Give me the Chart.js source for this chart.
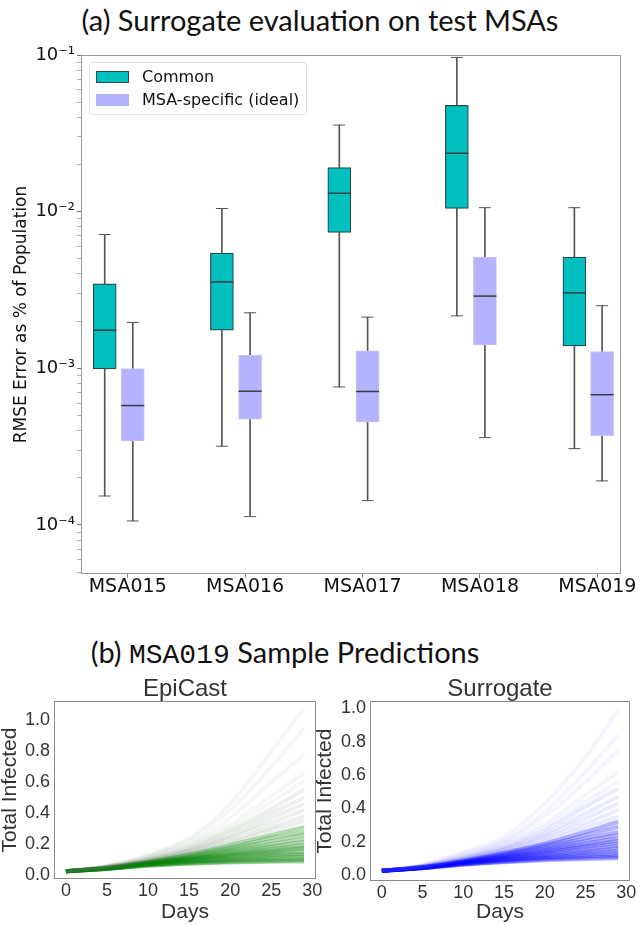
<!DOCTYPE html>
<html>
<head>
<meta charset="utf-8">
<script src="https://cdn.jsdelivr.net/npm/chart.js@4.4.1/dist/chart.umd.min.js"></script>
<style>
  html, body { margin: 0; padding: 0; background: #fff; }
  body { width: 640px; height: 925px; position: relative; overflow: hidden; }
  canvas { position: absolute; }
  .sup { position: absolute; left: 0; width: 640px; text-align: center; font-family: Lato, "Noto Sans", sans-serif; font-size: 29px; color: #111; white-space: nowrap; line-height: 36px; }
  .mono { font-family: "Liberation Mono", "DejaVu Sans Mono", monospace; font-size: 28px; }
  #legend { position: absolute; left: 89px; top: 62px; width: 216px; height: 51px; border: 1px solid #e2e2e2; border-radius: 3px; background: rgba(255,255,255,0.85); font-family: "DejaVu Sans", sans-serif; font-size: 16px; color: #111; }
  .item { position: absolute; left: 6px; height: 20px; line-height: 20px; white-space: nowrap; }
  .sw { display: inline-block; width: 31px; height: 10px; vertical-align: middle; margin-right: 13px; position: relative; top: -1px; }
</style>
</head>
<body>
<div class="sup" style="top: 2px;">(a) Surrogate evaluation on test MSAs</div>
<div class="sup" style="top: 634px; left: -35px;">(b) <span class="mono">MSA019</span> Sample Predictions</div>

<canvas id="boxChart" width="640" height="560" style="left:0; top:40px;"></canvas>
<canvas id="epiChart" width="330" height="255" style="left:0; top:670px;"></canvas>
<canvas id="surChart" width="335" height="255" style="left:305px; top:670px;"></canvas>

<div id="legend">
  <div class="item" style="top: 4px;"><span class="sw" style="background:#00bfbf; border:1px solid #2b4a4a;"></span>Common</div>
  <div class="item" style="top: 27px;"><span class="sw" style="background:#b3b3ff; border:1px solid #b3b3ff;"></span>MSA-specific (ideal)</div>
</div>

<script>
const msaLabels = ['MSA015', 'MSA016', 'MSA017', 'MSA018', 'MSA019'];
const commonPos = [0.804, 1.802, 2.802, 3.803, 4.804];
const specificPos = [1.043, 2.042, 3.043, 4.042, 5.040];

const commonLow  = [1.53e-4, 3.18e-4, 7.6e-4, 2.16e-3, 3.07e-4];
const commonQ1   = [9.9e-4, 1.75e-3, 7.36e-3, 1.05e-2, 1.39e-3];
const commonMed  = [1.75e-3, 3.56e-3, 1.31e-2, 2.36e-2, 3.03e-3];
const commonQ3   = [3.46e-3, 5.43e-3, 1.91e-2, 4.77e-2, 5.13e-3];
const commonHigh = [7.15e-3, 1.047e-2, 3.57e-2, 9.65e-2, 1.06e-2];

const specLow  = [1.06e-4, 1.13e-4, 1.43e-4, 3.61e-4, 1.91e-4];
const specQ1   = [3.44e-4, 4.74e-4, 4.55e-4, 1.41e-3, 3.71e-4];
const specMed  = [5.78e-4, 7.14e-4, 7.11e-4, 2.89e-3, 6.78e-4];
const specQ3   = [9.95e-4, 1.21e-3, 1.29e-3, 5.13e-3, 1.28e-3];
const specHigh = [1.96e-3, 2.26e-3, 2.12e-3, 1.06e-2, 2.51e-3];

const yDecades = [1e-5, 1e-4, 1e-3, 1e-2, 1e-1];

// ---- panel (b): sample trajectories, MSA019 ----
const days = [0, 5, 10, 15, 20, 25, 29];
const dayTicks = [0, 5, 10, 15, 20, 25, 30];
const infectedTicks = [0, 0.2, 0.4, 0.6, 0.8, 1.0];

const epicastRuns = [
  [0.025, 0.062, 0.130, 0.240, 0.460, 0.800, 1.080],
  [0.025, 0.060, 0.125, 0.230, 0.420, 0.700, 0.950],
  [0.025, 0.058, 0.120, 0.210, 0.370, 0.600, 0.780],
  [0.025, 0.056, 0.115, 0.200, 0.330, 0.510, 0.660],
  [0.025, 0.055, 0.110, 0.190, 0.310, 0.470, 0.610],
  [0.025, 0.054, 0.105, 0.180, 0.290, 0.430, 0.550],
  [0.025, 0.053, 0.100, 0.170, 0.270, 0.400, 0.500],
  [0.025, 0.052, 0.098, 0.160, 0.250, 0.370, 0.460],
  [0.025, 0.051, 0.095, 0.155, 0.240, 0.340, 0.420],
  [0.025, 0.050, 0.092, 0.150, 0.220, 0.310, 0.380],
  [0.025, 0.049, 0.090, 0.140, 0.210, 0.290, 0.350],
  [0.025, 0.048, 0.087, 0.135, 0.195, 0.260, 0.310],
  [0.025, 0.047, 0.085, 0.130, 0.180, 0.240, 0.280],
  [0.025, 0.046, 0.082, 0.120, 0.170, 0.220, 0.260],
  [0.025, 0.046, 0.080, 0.115, 0.160, 0.200, 0.235],
  [0.025, 0.045, 0.078, 0.110, 0.150, 0.185, 0.215],
  [0.025, 0.045, 0.077, 0.107, 0.140, 0.170, 0.195],
  [0.025, 0.044, 0.075, 0.103, 0.133, 0.160, 0.180],
  [0.025, 0.044, 0.074, 0.100, 0.127, 0.150, 0.170],
  [0.025, 0.043, 0.072, 0.096, 0.120, 0.140, 0.155],
  [0.025, 0.043, 0.070, 0.092, 0.112, 0.130, 0.140],
  [0.025, 0.042, 0.068, 0.088, 0.105, 0.120, 0.130],
  [0.025, 0.042, 0.066, 0.084, 0.099, 0.110, 0.118],
  [0.025, 0.041, 0.064, 0.080, 0.092, 0.100, 0.105],
  [0.025, 0.040, 0.062, 0.076, 0.086, 0.092, 0.095],
  [0.025, 0.040, 0.060, 0.073, 0.081, 0.086, 0.088]
];

const surrogateRuns = [
  [0.025, 0.060, 0.140, 0.230, 0.430, 0.710, 0.990],
  [0.025, 0.058, 0.130, 0.210, 0.380, 0.620, 0.840],
  [0.025, 0.056, 0.120, 0.200, 0.350, 0.560, 0.750],
  [0.025, 0.055, 0.115, 0.190, 0.310, 0.480, 0.620],
  [0.025, 0.054, 0.110, 0.180, 0.290, 0.440, 0.560],
  [0.025, 0.053, 0.105, 0.170, 0.270, 0.410, 0.520],
  [0.025, 0.052, 0.100, 0.160, 0.250, 0.370, 0.470],
  [0.025, 0.051, 0.097, 0.155, 0.235, 0.340, 0.430],
  [0.025, 0.050, 0.094, 0.150, 0.220, 0.310, 0.390],
  [0.025, 0.049, 0.090, 0.140, 0.205, 0.285, 0.350],
  [0.025, 0.048, 0.087, 0.135, 0.190, 0.260, 0.320],
  [0.025, 0.047, 0.085, 0.130, 0.180, 0.240, 0.290],
  [0.025, 0.046, 0.082, 0.123, 0.170, 0.220, 0.260],
  [0.025, 0.046, 0.080, 0.117, 0.160, 0.205, 0.240],
  [0.025, 0.045, 0.078, 0.112, 0.150, 0.190, 0.220],
  [0.025, 0.045, 0.076, 0.108, 0.143, 0.178, 0.205],
  [0.025, 0.044, 0.075, 0.104, 0.136, 0.168, 0.190],
  [0.025, 0.044, 0.073, 0.100, 0.128, 0.155, 0.175],
  [0.025, 0.043, 0.071, 0.096, 0.120, 0.143, 0.160],
  [0.025, 0.043, 0.069, 0.092, 0.113, 0.132, 0.145],
  [0.025, 0.042, 0.067, 0.088, 0.106, 0.122, 0.132],
  [0.025, 0.042, 0.065, 0.084, 0.100, 0.113, 0.120],
  [0.025, 0.041, 0.063, 0.080, 0.094, 0.104, 0.110],
  [0.025, 0.040, 0.061, 0.076, 0.088, 0.096, 0.100]
]

// plain box around the plotting area, like matplotlib spines
const frame = {
  id: 'frame',
  afterDatasetsDraw(chart, args, opts) {
    const { ctx, chartArea: a } = chart
    ctx.save()
    ctx.strokeStyle = opts.color || '#999'
    ctx.lineWidth = 1
    ctx.strokeRect(Math.round(a.left) + 0.5, Math.round(a.top) + 0.5, Math.round(a.width) - 1, Math.round(a.height) - 1)
    ctx.restore()
  }
}

const SUP = { '-': '\u207b', '0': '\u2070', '1': '\u00b9', '2': '\u00b2', '3': '\u00b3', '4': '\u2074', '5': '\u2075' }
const decadeLabel = v => '10' + String(Math.round(Math.log10(v))).split('').map(c => SUP[c]).join('')
const isDecade = v => Math.abs(Math.log10(v) - Math.round(Math.log10(v))) < 1e-6

const pts = (xs, ys) => xs.map((x, i) => ({ x, y: ys[i] }))
const range = (xs, lo, hi) => xs.map((x, i) => ({ x, y: [lo[i], hi[i]] }))

const allPos = commonPos.concat(specificPos)
const boxW = 23

new Chart(document.getElementById('boxChart'), {
  type: 'bar',
  data: {
    datasets: [
      { label: 'whiskers', data: range(allPos, commonLow.concat(specLow), commonHigh.concat(specHigh)),
        backgroundColor: '#555', barThickness: 1, grouped: false, order: 5 },
      { type: 'scatter', label: 'caps', data: pts(allPos.concat(allPos), commonLow.concat(specLow, commonHigh, specHigh)),
        pointStyle: 'line', pointRadius: 6, borderColor: '#555', borderWidth: 1, order: 4 },
      { label: 'Common', data: range(commonPos, commonQ1, commonQ3),
        backgroundColor: '#00bfbf', borderColor: '#2b4a4a', borderWidth: 1.2, borderSkipped: false,
        barThickness: boxW, grouped: false, order: 3 },
      { label: 'MSA-specific (ideal)', data: range(specificPos, specQ1, specQ3),
        backgroundColor: '#b3b3ff', borderColor: '#c4c4ee', borderWidth: 1, borderSkipped: false,
        barThickness: boxW, grouped: false, order: 3 },
      { type: 'scatter', label: 'medians', data: pts(allPos, commonMed.concat(specMed)),
        pointStyle: 'line', pointRadius: boxW / 2, borderColor: '#2f3f3f', borderWidth: 1.5, order: 1 }
    ]
  },
  options: {
    responsive: false, animation: false,
    layout: { padding: { top: 15, right: 19, left: 0, bottom: 0 } },
    plugins: { legend: { display: false }, tooltip: { enabled: false }, frame: { color: '#9a9a9a' } },
    scales: {
      x: {
        type: 'linear', min: 0.602, max: 5.201, offset: false,
        afterBuildTicks: s => { s.ticks = msaLabels.map((_, i) => ({ value: i + 1 })) },
        afterFit: s => { s.height = 26 },
        ticks: { callback: v => msaLabels[Math.round(v) - 1], autoSkip: false, maxRotation: 0, padding: 0,
          font: { family: 'DejaVu Sans', size: 19, lineHeight: 1 }, color: '#111' },
        grid: { display: true, drawOnChartArea: false, offset: false, tickLength: 4, tickColor: '#888' },
        border: { display: false }
      },
      y: {
        type: 'logarithmic', min: 4.86e-5, max: 0.1,
        afterBuildTicks: s => {
          const t = []
          yDecades.forEach(d => [1, 2, 3, 4, 5, 6, 7, 8, 9].forEach(m => {
            const v = d * m
            if (v >= s.min && v <= s.max * 1.0001) t.push({ value: v })
          }))
          s.ticks = t
        },
        afterFit: s => { s.width = 81 },
        ticks: { callback: v => isDecade(v) ? decadeLabel(v) : '', autoSkip: false, padding: 2,
          font: { family: 'DejaVu Sans', size: 18 }, color: '#111' },
        grid: { display: true, drawOnChartArea: false, tickLength: 4,
          tickColor: c => (c.tick && isDecade(c.tick.value)) ? '#777' : '#b0b0b0' },
        border: { display: false },
        title: { display: true, text: 'RMSE Error as % of Population', color: '#111',
          font: { family: 'DejaVu Sans', size: 17 }, padding: { top: 11, bottom: 0 } }
      }
    }
  },
  plugins: [frame]
})

// ---- trajectory panels ----
function runStyle(rgb, faint, end) {
  if (end > 0.55) return 'rgba(' + faint + ',0.05)'
  if (end > 0.32) return 'rgba(' + faint + ',0.1)'
  return 'rgba(' + rgb + ',0.3)'
}

function trajectories(id, title, runs, rgb, faint, yMin, yMax, axisW, axisH, padRight, ylabelPad) {
  const txt = (size) => ({ family: 'Liberation Sans', size, lineHeight: 1 })
  return new Chart(document.getElementById(id), {
    type: 'line',
    data: {
      datasets: runs.map(r => ({
        data: pts(days, r), borderColor: runStyle(rgb, faint, r[r.length - 1]), borderWidth: 4,
        pointRadius: 0, cubicInterpolationMode: 'monotone', fill: false
      }))
    },
    options: {
      responsive: false, animation: false,
      layout: { padding: { top: 0, right: padRight, left: 0, bottom: 0 } },
      plugins: {
        legend: { display: false }, tooltip: { enabled: false }, frame: { color: '#8a8a8a' },
        title: { display: true, fullSize: false, text: title, color: '#333',
          font: { family: 'Liberation Sans', size: 24, lineHeight: 1, weight: 'normal' },
          padding: { top: 7, bottom: 0 } }
      },
      scales: {
        x: {
          type: 'linear', min: -1.45, max: 30.45,
          afterBuildTicks: s => { s.ticks = dayTicks.map(v => ({ value: v })) },
          afterFit: s => { s.height = axisH },
          ticks: { padding: 3.5, maxRotation: 0, font: txt(18), color: '#333' },
          grid: { display: false, drawTicks: false }, border: { display: false },
          title: { display: true, text: 'Days', color: '#333', font: txt(21), padding: { top: 0, bottom: 2.5 } }
        },
        y: {
          min: yMin, max: yMax,
          afterBuildTicks: s => { s.ticks = infectedTicks.map(v => ({ value: v })) },
          afterFit: s => { s.width = axisW },
          ticks: { padding: 4, callback: v => v.toFixed(1), font: txt(18), color: '#333' },
          grid: { display: false, drawTicks: false }, border: { display: false },
          title: { display: true, text: 'Total Infected', color: '#333', font: txt(21), padding: { top: ylabelPad, bottom: 0 } }
        }
      }
    },
    plugins: [frame]
  })
}

trajectories('epiChart', 'EpiCast', epicastRuns, '0,128,0', '80,110,80', -0.025, 1.126, 54, 46, 14, 0)
trajectories('surChart', 'Surrogate', surrogateRuns, '0,0,255', '60,60,255', -0.036, 1.045, 65, 44, 5, 9.5)
</script>
</body>
</html>
